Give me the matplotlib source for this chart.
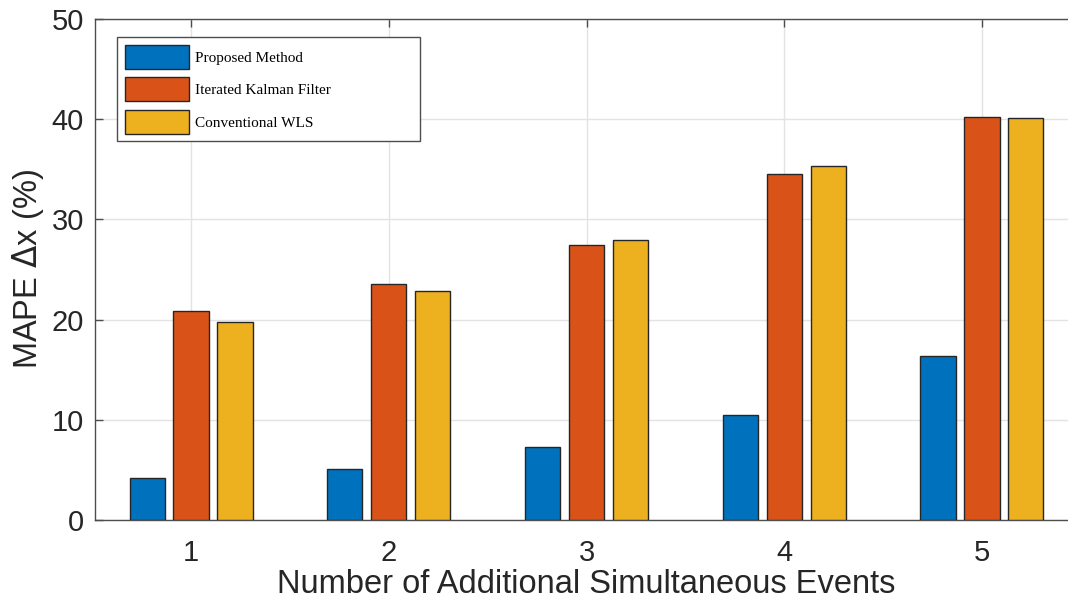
import numpy as np
import matplotlib.pyplot as plt

# MAPE of the state estimate for each number of extra simultaneous events
eventos = [1, 2, 3, 4, 5]
mape_propuesto = [4.2, 5.1, 7.3, 10.5, 16.4]
mape_ikf = [20.9, 23.6, 27.4, 34.5, 40.2]
mape_wls = [19.8, 22.9, 27.9, 35.3, 40.1]

series = ["Proposed Method", "Iterated Kalman Filter", "Conventional WLS"]
colores = ["#0072BD", "#D95319", "#EDB120"]

fig = plt.figure(figsize=(10.68, 6.01), dpi=100)
ax = fig.add_axes([95 / 1068, 81 / 601, 983 / 1068, 501 / 601])

x = np.array(eventos)
ancho = 0.178
paso = 0.222
for i, (datos, col, nombre) in enumerate(zip([mape_propuesto, mape_ikf, mape_wls], colores, series)):
    ax.bar(x + (i - 1) * paso, datos, ancho, color=col, edgecolor="#262626",
           linewidth=1.0, label=nombre, zorder=3)

ax.set_xlim(0.514, 5.486)
ax.set_ylim(0, 50)
ax.set_xticks(eventos)
ax.set_yticks([0, 10, 20, 30, 40, 50])
ax.grid(True, color="#e3e3e3", linewidth=1.0, zorder=0)
ax.set_axisbelow(True)

for s in ax.spines.values():
    s.set_color("#4d4d4d")
    s.set_linewidth(1.0)
ax.spines["right"].set_visible(False)

ax.tick_params(direction="in", length=6, width=1, color="#4d4d4d",
               top=True, right=True, labelsize=21, labelcolor="#262626")
ax.tick_params(axis="x", pad=14)
ax.tick_params(axis="y", pad=8)
for lab in ax.get_xticklabels() + ax.get_yticklabels():
    lab.set_fontfamily("Liberation Sans")

ax.set_xlabel("Number of Additional Simultaneous Events", fontsize=23.5,
              family="Liberation Sans", color="#262626", labelpad=1)
ax.set_ylabel("MAPE $\\Delta$x (%)", fontsize=23.5, family="Liberation Sans",
              color="#262626", labelpad=4)

leg = ax.legend(loc="upper left", bbox_to_anchor=(22 / 983, 1 - 18 / 501, 303 / 983, 0.0),
                mode="expand", borderaxespad=0,
                prop={"family": "Liberation Serif", "size": 11},
                handlelength=4.2, handleheight=2.05, labelspacing=0.55,
                borderpad=0.5, handletextpad=0.4, fancybox=False, framealpha=1)
leg.get_frame().set_edgecolor("#4d4d4d")
leg.get_frame().set_linewidth(1.0)

fig.savefig("out.png", dpi=100)
